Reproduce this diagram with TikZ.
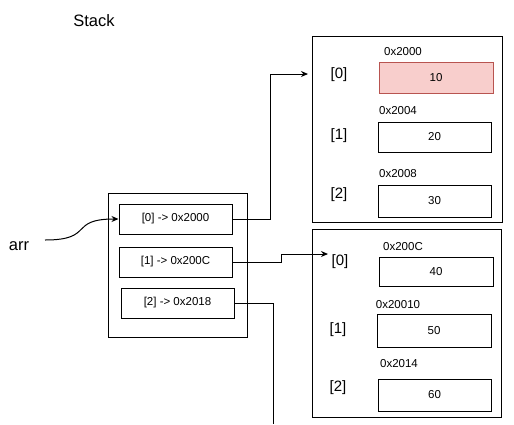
\documentclass[tikz,border=0pt]{standalone}
\usepackage{fontspec}
\setmainfont{Liberation Sans}
\usetikzlibrary{arrows.meta}
\definecolor{redfill}{HTML}{F8CECC}
\definecolor{redline}{HTML}{B85450}
\tikzset{
  cell/.style={draw=black, line width=1pt, rectangle, inner sep=0pt, font=\fontsize{11.5}{13}\selectfont},
  frame/.style={draw=black, line width=1pt, rectangle, inner sep=0pt},
  addr/.style={inner sep=0pt, font=\fontsize{11.5}{13}\selectfont},
  idx/.style={inner sep=0pt, font=\fontsize{15}{18}\selectfont},
  big/.style={inner sep=0pt, font=\fontsize{16.5}{19}\selectfont},
  conn/.style={draw=black, line width=1pt},
  tip/.style={-{Stealth[length=7pt,width=6pt]}}
}
\begin{document}
\begin{tikzpicture}[x=1pt,y=-1pt]
\useasboundingbox (0,0) rectangle (514,424);
% titles
\node[big] (stack) at (94,21) {Stack};
\node[big] (arr) at (19,246) {arr};
% left stack frame
\node[frame, minimum width=139pt, minimum height=144pt] (lframe) at (177.5,265) {};
\node[cell, minimum width=113pt, minimum height=30pt] (b0) at (175.5,219) {[0] -> 0x2000};
\node[cell, minimum width=113pt, minimum height=30pt] (b1) at (175.5,262) {[1] -> 0x200C};
\node[cell, minimum width=113pt, minimum height=30pt] (b2) at (177.5,303) {[2] -> 0x2018};
% top right frame
\node[frame, minimum width=190pt, minimum height=186pt] (tframe) at (407,129) {};
\node[addr] (a0) at (403,52) {0x2000};
\node[idx] (i0) at (339,75) {[0]};
\node[cell, fill=redfill, draw=redline, minimum width=114pt, minimum height=31pt] (v10) at (436,77.5) {10};
\node[addr] (a1) at (398,111) {0x2004};
\node[idx] (i1) at (339,136) {[1]};
\node[cell, minimum width=113pt, minimum height=30pt] (v20) at (434.5,137) {20};
\node[addr] (a2) at (398,174) {0x2008};
\node[idx] (i2) at (339,195) {[2]};
\node[cell, minimum width=113pt, minimum height=32pt] (v30) at (434.5,201) {30};
% bottom right frame
\node[frame, minimum width=189pt, minimum height=188pt] (bframe) at (406.5,323) {};
\node[addr] (a3) at (403,247) {0x200C};
\node[idx] (i3) at (340,262) {[0]};
\node[cell, minimum width=114pt, minimum height=29pt] (v40) at (436,271.5) {40};
\node[addr] (a4) at (398,305) {0x20010};
\node[idx] (i4) at (338,330) {[1]};
\node[cell, minimum width=114pt, minimum height=33pt] (v50) at (434,330.5) {50};
\node[addr] (a5) at (399,364) {0x2014};
\node[idx] (i5) at (338,388) {[2]};
\node[cell, minimum width=113pt, minimum height=32pt] (v60) at (434.5,395) {60};
% connectors
\coordinate (arrstart) at (45,240);
\coordinate (tA) at (308,74);
\coordinate (tB) at (328,254);
\coordinate (cEnd) at (273,424);
\draw[conn, tip] (arrstart) .. controls (95,240) and (68,219) .. (b0.west);
\draw[conn, tip] (b0.east) -- ++(38,0) |- (tA);
\draw[conn, tip] (b1.east) -- ++(49,0) -- ++(0,-8) -- (tB);
\draw[conn] (b2.east) -| (cEnd);
\end{tikzpicture}
\end{document}
